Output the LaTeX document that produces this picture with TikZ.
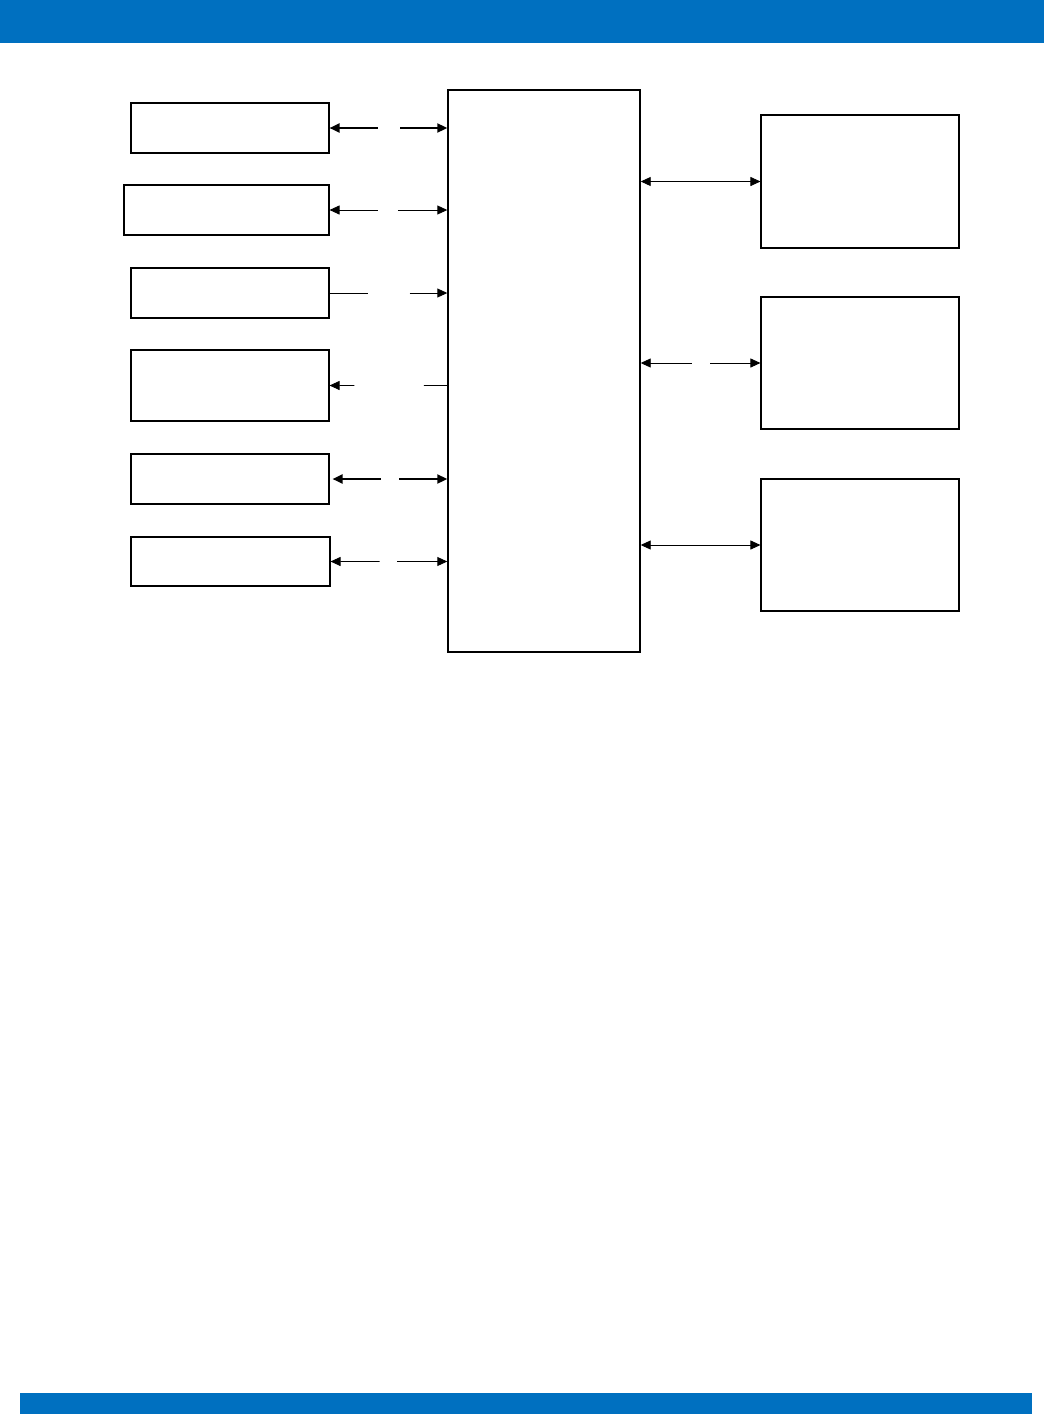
\documentclass[tikz,border=0pt]{standalone}
\usepackage{xcolor}
\usetikzlibrary{arrows.meta,calc,positioning}
\definecolor{barblue}{HTML}{0070C0}

\begin{document}
\begin{tikzpicture}[x=1pt,y=-1pt,>={Triangle[length=10pt,width=9pt]},
  box/.style={draw,line width=1.1pt,inner sep=0pt,minimum width=198pt,minimum height=50pt},
  tall/.style={box,minimum height=132pt},
  arr/.style={line width=0.9pt},
  thk/.style={line width=2pt}]
\useasboundingbox[fill=white] (0,0) rectangle (1044,1414);
\fill[barblue] (0,0) rectangle (1044,43);
\fill[barblue] (20,1393) rectangle (1032,1414);
% left column
\node[box] (l1) at (230,128) {};
\node[box,minimum width=205pt] (l2) at (226.5,210) {};
\node[box] (l3) at (230,293) {};
\node[box,minimum height=71pt] (l4) at (230,385.5) {};
\node[box] (l5) at (230,479) {};
\node[box,minimum width=199pt,minimum height=49pt] (l6) at (230.5,561.5) {};
% centre block
\node[box,line width=1.4pt,minimum width=192pt,minimum height=562pt] (core) at (544,371) {};
% right column
\node[tall,minimum height=133pt] (r1) at (860,181.5) {};
\node[tall] (r2) at (860,363) {};
\node[tall] (r3) at (860,545) {};
% left links
\draw[thk,<-] (l1.east) -- ($(l1.east)!0.41!(l1.east -| core.west)$);
\draw[thk,->] ($(l1.east)!0.60!(l1.east -| core.west)$) -- (l1.east -| core.west);
\draw[arr,<-] (l2.east) -- ($(l2.east)!0.41!(l2.east -| core.west)$);
\draw[arr,->] ($(l2.east)!0.58!(l2.east -| core.west)$) -- (l2.east -| core.west);
\draw[arr] (l3.east) -- ($(l3.east)!0.33!(l3.east -| core.west)$);
\draw[arr,->] ($(l3.east)!0.68!(l3.east -| core.west)$) -- (l3.east -| core.west);
\draw[arr,<-] (l4.east) -- ($(l4.east)!0.21!(l4.east -| core.west)$);
\draw[arr] ($(l4.east)!0.80!(l4.east -| core.west)$) -- (l4.east -| core.west);
\draw[thk,<-] ([xshift=3pt]l5.east) -- ($(l5.east)!0.44!(l5.east -| core.west)$);
\draw[thk,->] ($(l5.east)!0.59!(l5.east -| core.west)$) -- (l5.east -| core.west);
\draw[arr,<-] (l6.east) -- ($(l6.east)!0.42!(l6.east -| core.west)$);
\draw[arr,->] ($(l6.east)!0.57!(l6.east -| core.west)$) -- (l6.east -| core.west);
% right links
\draw[arr,<->] (r1.west -| core.east) -- (r1.west);
\draw[arr,<-] (r2.west -| core.east) -- ($(r2.west -| core.east)!0.43!(r2.west)$);
\draw[arr,->] ($(r2.west -| core.east)!0.58!(r2.west)$) -- (r2.west);
\draw[arr,<->] (r3.west -| core.east) -- (r3.west);
\end{tikzpicture}
\end{document}
